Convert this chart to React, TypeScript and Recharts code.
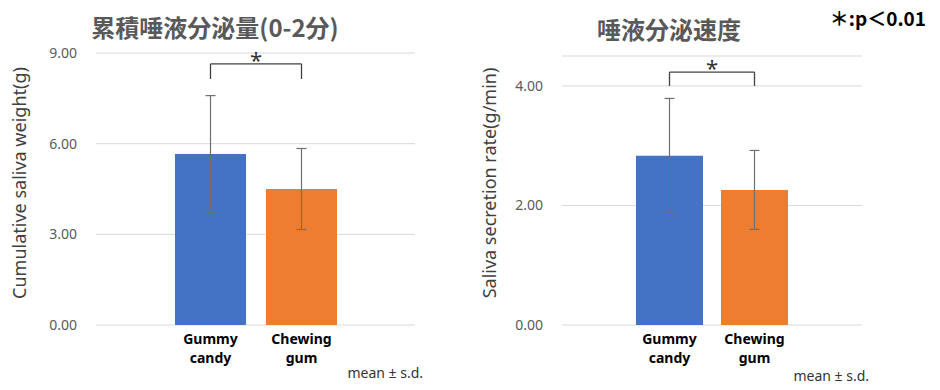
import React from 'react';
import {
  BarChart,
  Bar,
  Cell,
  XAxis,
  YAxis,
  CartesianGrid,
  ErrorBar,
  ReferenceLine
} from 'recharts';

// categories and values
const categories = ['Gummy candy', 'Chewing gum'];
const weightMean = [5.66, 4.5];
const weightSd = [1.93, 1.34];
const rateMean = [2.83, 2.26];
const rateSd = [0.96, 0.66];
const weightTicks = [0, 3, 6, 9];
const rateTicks = [0, 2, 4];
const barColors = ['#4472C4', '#ED7D31'];

const weightData = categories.map((name, i) => ({ name, mean: weightMean[i], sd: weightSd[i] }));
const rateData = categories.map((name, i) => ({ name, mean: rateMean[i], sd: rateSd[i] }));

const FONT = '"Noto Sans", "Noto Sans CJK JP", sans-serif';
const JP = '"Noto Sans CJK JP", "Noto Sans", sans-serif';

// two-line bold category label under each bar
const CategoryTick = ({ x, y, payload }: any) => {
  const words = String(payload.value).split(' ');
  return (
    <text x={x} y={y} textAnchor="middle" fontFamily={FONT} fontSize={14} fontWeight={700} fill="#000">
      {words.map((w, i) => (
        <tspan key={i} x={x} dy={i === 0 ? 11 : 19}>
          {w}
        </tspan>
      ))}
    </text>
  );
};

const bracketStroke = '#404040';

const SalivaChart = ({
  data,
  ticks,
  domain,
  margin,
  padding,
  gap,
  bracketTop,
  bracketBottom
}: any) => (
  <BarChart width={470} height={390} data={data} margin={margin} barCategoryGap={gap}>
    <CartesianGrid vertical={false} stroke="#d9d9d9" />
    <XAxis
      dataKey="name"
      axisLine={false}
      tickLine={false}
      padding={padding}
      interval={0}
      tick={<CategoryTick />}
    />
    <YAxis
      width={60}
      domain={domain}
      ticks={ticks}
      axisLine={false}
      tickLine={false}
      tickMargin={13}
      tickFormatter={(v: number) => v.toFixed(2)}
      tick={{ fill: '#595959', fontSize: 14, fontFamily: FONT }}
    />
    <Bar dataKey="mean" isAnimationActive={false}>
      {data.map((d: any, i: number) => (
        <Cell key={d.name} fill={barColors[i]} />
      ))}
      <ErrorBar dataKey="sd" width={5} stroke="#707070" strokeWidth={1.2} isAnimationActive={false} />
    </Bar>
    {/* significance bracket */}
    <ReferenceLine
      segment={[{ x: categories[0], y: bracketTop }, { x: categories[1], y: bracketTop }]}
      stroke={bracketStroke}
      strokeWidth={1.3}
      ifOverflow="visible"
      label={{ value: '*', position: 'top', offset: -4, fill: '#333', fontSize: 22, fontFamily: FONT }}
    />
    <ReferenceLine
      segment={[{ x: categories[0], y: bracketTop }, { x: categories[0], y: bracketBottom }]}
      stroke={bracketStroke}
      strokeWidth={1.3}
      ifOverflow="visible"
    />
    <ReferenceLine
      segment={[{ x: categories[1], y: bracketTop }, { x: categories[1], y: bracketBottom }]}
      stroke={bracketStroke}
      strokeWidth={1.3}
      ifOverflow="visible"
    />
  </BarChart>
);

export default function App() {
  return (
    <div style={{ position: 'absolute', left: 0, top: 0, width: 940, height: 390, background: '#fff' }}>
      <div style={{ position: 'absolute', left: 0, top: 0 }}>
        <SalivaChart
          data={weightData}
          ticks={weightTicks}
          domain={[0, 9]}
          margin={{ top: 53, right: 55, bottom: 35, left: 36 }}
          padding={{ left: 69, right: 68 }}
          gap={10}
          bracketTop={8.64}
          bracketBottom={8.14}
        />
      </div>
      <div style={{ position: 'absolute', left: 470, top: 0 }}>
        <SalivaChart
          data={rateData}
          ticks={rateTicks}
          domain={[0, 4.5]}
          margin={{ top: 56, right: 78, bottom: 35, left: 32 }}
          padding={{ left: 65, right: 65 }}
          gap={9}
          bracketTop={4.23}
          bracketBottom={4.0}
        />
      </div>
      <svg width={940} height={390} style={{ position: 'absolute', left: 0, top: 0, pointerEvents: 'none' }}>
        <text x={215} y={37} textAnchor="middle" fontFamily={JP} fontSize={24} fontWeight={700} fill="#595959">
          累積唾液分泌量(0-2分)
        </text>
        <text x={669} y={39} textAnchor="middle" fontFamily={JP} fontSize={24} fontWeight={700} fill="#595959">
          唾液分泌速度
        </text>
        <text x={926} y={26} textAnchor="end" fontFamily={JP} fontSize={19} fontWeight={700} fill="#000">
          ＊:p＜0.01
        </text>
        <text
          transform="translate(26,183) rotate(-90)"
          textAnchor="middle"
          fontFamily={FONT}
          fontSize={18}
          fill="#404040"
        >
          Cumulative saliva weight(g)
        </text>
        <text
          transform="translate(496,183) rotate(-90)"
          textAnchor="middle"
          fontFamily={FONT}
          fontSize={18}
          fill="#404040"
        >
          Saliva secretion rate(g/min)
        </text>
        <text x={423} y={378} textAnchor="end" fontFamily={FONT} fontSize={14} fill="#333">
          mean ± s.d.
        </text>
        <text x={869} y={381} textAnchor="end" fontFamily={FONT} fontSize={14} fill="#333">
          mean ± s.d.
        </text>
      </svg>
    </div>
  );
}
